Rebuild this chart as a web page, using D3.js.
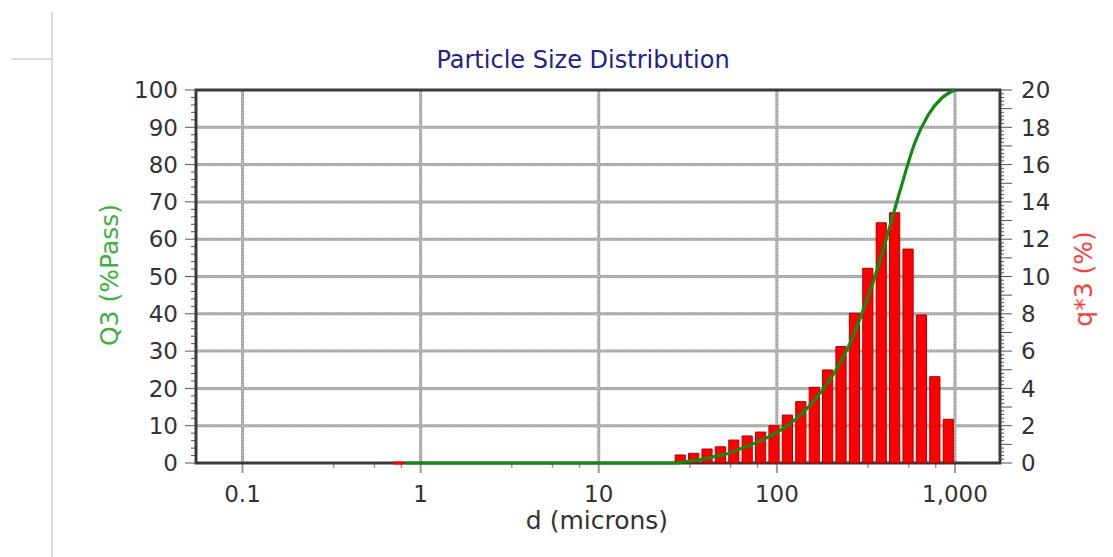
<!DOCTYPE html>
<html>
<head>
<meta charset="utf-8">
<script src="https://cdn.jsdelivr.net/npm/d3@7"></script>
<style>
  body { margin: 0; background: #fff; }
  svg { display: block; }
  text { font-family: "DejaVu Sans", Verdana, sans-serif; }
</style>
</head>
<body>
<svg id="chart" width="1113" height="557"></svg>
<script>
// ---- data ----
// sieve bins (microns), lower and upper edge of each class
const binLow  = [0.69, 26.3, 31.25, 37.2, 44.2, 52.6, 62.5, 74.3, 88.4, 105.1, 125, 148.7, 176.8, 210.2, 250, 297.3, 353.6, 420.4, 500, 594.6, 707.1, 840.9];
const binHigh = [0.82, 31.25, 37.2, 44.2, 52.6, 62.5, 74.3, 88.4, 105.1, 125, 148.7, 176.8, 210.2, 250, 297.3, 353.6, 420.4, 500, 594.6, 707.1, 840.9, 1000];
// q*3 (%) per class
const q3Bars  = [0, 0.43, 0.52, 0.75, 0.87, 1.23, 1.45, 1.66, 2.0, 2.57, 3.29, 4.06, 4.99, 6.24, 8.03, 10.44, 12.88, 13.42, 11.47, 7.94, 4.63, 2.34];
// cumulative Q3 (% passing) at each size
const passSizes = [0.82, 26.3, 31.25, 37.2, 44.2, 52.6, 62.5, 74.3, 88.4, 105.1, 125, 148.7, 176.8, 210.2, 250, 297.3, 353.6, 420.4, 500, 594.6, 707.1, 840.9, 1000];
const passQ3    = [0, 0, 0.4, 0.9, 1.7, 2.5, 3.8, 5.2, 6.8, 8.8, 11.4, 14.8, 19.0, 24.2, 30.8, 39.5, 49.6, 61.6, 74.2, 85.8, 93.3, 97.8, 100];
// axis ticks
const xMajorTicks = [0.1, 1, 10, 100, 1000];
const xTickLabels = ["0.1", "1", "10", "100", "1,000"];
const xMinorFactors = [3.25, 5.5, 7.8];
const leftTicks  = [0, 10, 20, 30, 40, 50, 60, 70, 80, 90, 100];
const rightTicks = [0, 2, 4, 6, 8, 10, 12, 14, 16, 18, 20];

// ---- layout ----
const W = 1113, H = 557;
const plot = { left: 196, right: 1000, top: 90, bottom: 463 };
const svg = d3.select("#chart");

const x = d3.scaleLog().domain([0.0548, 1790]).range([plot.left, plot.right]);
const yL = d3.scaleLinear().domain([0, 100]).range([plot.bottom, plot.top]);
const yR = d3.scaleLinear().domain([0, 20]).range([plot.bottom, plot.top]);

// page decoration at the left edge
svg.append("line").attr("x1", 52).attr("x2", 52).attr("y1", 12).attr("y2", H)
  .attr("stroke", "#cfcfcf").attr("stroke-width", 1.5);
svg.append("line").attr("x1", 11).attr("x2", 52).attr("y1", 59).attr("y2", 59)
  .attr("stroke", "#cfcfcf").attr("stroke-width", 1.5);

// title
svg.append("text").attr("x", 583).attr("y", 68).attr("text-anchor", "middle")
  .attr("font-size", 24).attr("fill", "#22228c").text("Particle Size Distribution");

// grid: a grey band with a lighter dotted core
const hVals = leftTicks.filter(d => d > 0 && d < 100);
const grid = svg.append("g");
[["#a6a6a6", 3, null], ["#d2d2d2", 1, "1.2 2"]].forEach(([col, w, dash]) => {
  grid.append("g").selectAll("line").data(hVals).join("line")
    .attr("x1", plot.left).attr("x2", plot.right)
    .attr("y1", d => yL(d)).attr("y2", d => yL(d))
    .attr("stroke", col).attr("stroke-width", w).attr("stroke-dasharray", dash);
  grid.append("g").selectAll("line").data(xMajorTicks).join("line")
    .attr("x1", d => x(d)).attr("x2", d => x(d))
    .attr("y1", plot.top).attr("y2", plot.bottom)
    .attr("stroke", col).attr("stroke-width", w).attr("stroke-dasharray", dash);
});

// left axis ticks (major + minor)
const axes = svg.append("g").attr("stroke", "#555");
axes.selectAll(".lmin").data(d3.range(0, 101, 2)).join("line")
  .attr("x1", d => plot.left - (d % 10 === 0 ? 11 : 5)).attr("x2", plot.left)
  .attr("y1", d => yL(d)).attr("y2", d => yL(d)).attr("stroke-width", 1);
axes.selectAll(".rmin").data(d3.range(0, 101, 1)).join("line")
  .attr("x1", plot.right).attr("x2", d => plot.right + (d % 5 === 0 ? 12 : 4))
  .attr("y1", d => yR(d / 5)).attr("y2", d => yR(d / 5)).attr("stroke-width", 1);
// bottom ticks
axes.selectAll(".bmaj").data(xMajorTicks).join("line")
  .attr("x1", d => x(d)).attr("x2", d => x(d))
  .attr("y1", plot.bottom).attr("y2", plot.bottom + 10).attr("stroke", "#999").attr("stroke-width", 2);
const minorVals = [];
xMajorTicks.forEach(t => xMinorFactors.forEach(f => { const v = t * f; if (v < 1790) minorVals.push(v); }));
axes.selectAll(".bmin").data(minorVals).join("line")
  .attr("x1", d => x(d)).attr("x2", d => x(d))
  .attr("y1", plot.bottom).attr("y2", plot.bottom + 5).attr("stroke", "#999").attr("stroke-width", 1.5);

// frame
svg.append("rect").attr("x", plot.left).attr("y", plot.top)
  .attr("width", plot.right - plot.left).attr("height", plot.bottom - plot.top)
  .attr("fill", "none").attr("stroke", "#3a3a3a").attr("stroke-width", 3);

// bars (q*3)
const inset = 1.6;
svg.append("g").selectAll("path").data(q3Bars).join("path")
  .attr("d", (v, i) => {
    const x0 = x(binLow[i]) + inset, x1 = x(binHigh[i]) - inset;
    const y0 = yR(0), y1 = yR(v);
    return `M${x0},${y0}V${y1}H${x1}V${y0}Z`;
  })
  .attr("fill", "#ff0000").attr("stroke", v => v === 0 ? "#ff0000" : "#b00000")
  .attr("stroke-width", v => v === 0 ? 3 : 1);

// cumulative curve (Q3)
const line = d3.line().x((d, i) => x(passSizes[i])).y(d => yL(d)).curve(d3.curveMonotoneX);
svg.append("path").datum(passQ3).attr("d", line)
  .attr("fill", "none").attr("stroke", "#138a13").attr("stroke-width", 3.2);

// tick labels
const lab = svg.append("g").attr("font-size", 23).attr("fill", "#333");
lab.selectAll(".lt").data(leftTicks).join("text")
  .attr("x", 178).attr("y", d => yL(d)).attr("dy", "0.36em").attr("text-anchor", "end").text(d => d);
lab.selectAll(".rt").data(rightTicks).join("text")
  .attr("x", 1021).attr("y", d => yR(d)).attr("dy", "0.36em").attr("text-anchor", "start").text(d => d);
lab.selectAll(".xt").data(xMajorTicks).join("text")
  .attr("x", d => x(d)).attr("y", 502).attr("text-anchor", "middle").text((d, i) => xTickLabels[i]);

// axis titles
svg.append("text").attr("x", 597).attr("y", 529).attr("text-anchor", "middle")
  .attr("font-size", 25).attr("fill", "#333").text("d (microns)");
svg.append("text").attr("transform", "translate(118,275) rotate(-90)").attr("text-anchor", "middle")
  .attr("font-size", 25).attr("fill", "#3db03d").text("Q3 (%Pass)");
svg.append("text").attr("transform", "translate(1092,279) rotate(-90)").attr("text-anchor", "middle")
  .attr("font-size", 25).attr("fill", "#ff3c3c").text("q*3 (%)");
</script>
</body>
</html>
